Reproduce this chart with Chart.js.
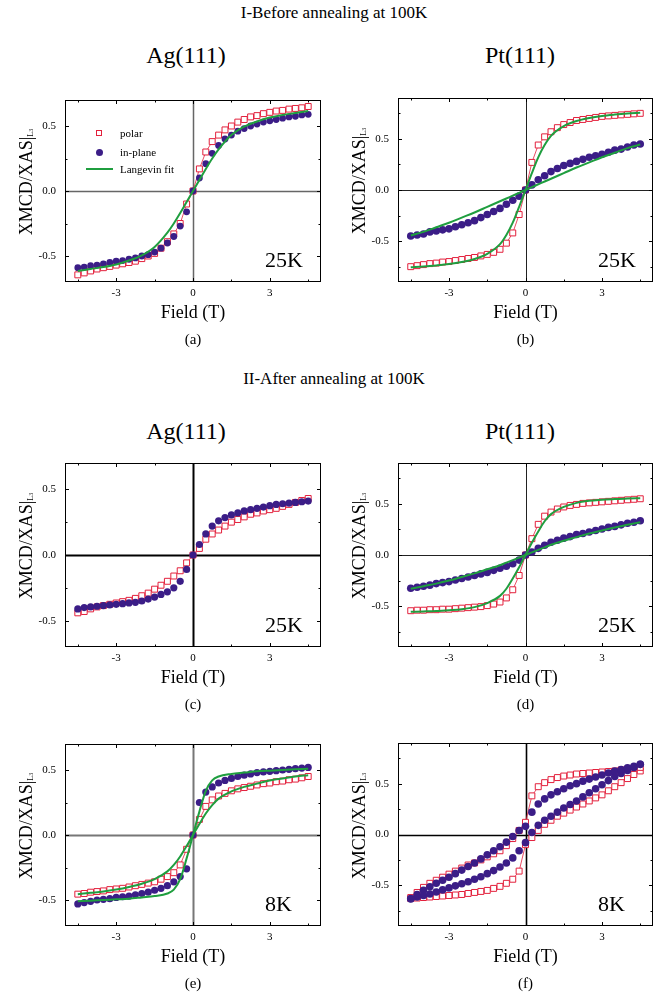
<!DOCTYPE html>
<html>
<head>
<meta charset="utf-8">
<script src="https://cdn.jsdelivr.net/npm/chart.js@4.4.0/dist/chart.umd.min.js"></script>
<style>
  body { margin: 0; background: #fff; width: 668px; height: 1004px; position: relative; overflow: hidden;
         font-family: 'Liberation Serif', 'Times New Roman', serif; color: #000; }
  .t { position: absolute; transform: translate(-50%, -50%); line-height: 1; white-space: nowrap; }
  .yt { position: absolute; transform: translate(-50%, -50%) rotate(-90deg); line-height: 1; white-space: nowrap; font-size: 18px; }
  .yt sub { font-size: 8px; vertical-align: -1px; }
  .tag { position: absolute; font-size: 22px; line-height: 1; }
  .leg { position: absolute; font-size: 11px; line-height: 1; transform: translateY(-50%); }
  canvas { position: absolute; }
</style>
</head>
<body>
<div class="t" style="left:334px;top:12px;font-size:17px">I-Before annealing at 100K</div>
<div class="t" style="left:186px;top:55px;font-size:24px">Ag(111)</div>
<div class="t" style="left:520px;top:55px;font-size:24px">Pt(111)</div>
<div class="t" style="left:334px;top:378px;font-size:17px">II-After annealing at 100K</div>
<div class="t" style="left:186px;top:431px;font-size:24px">Ag(111)</div>
<div class="t" style="left:520px;top:431px;font-size:24px">Pt(111)</div>

<canvas id="a"></canvas>
<canvas id="b"></canvas>
<canvas id="c"></canvas>
<canvas id="d"></canvas>
<canvas id="e"></canvas>
<canvas id="f"></canvas>

<!-- legend of panel (a) -->
<div style="position:absolute;left:96px;top:130px;width:6px;height:6px;border:1px solid #e3203c;box-sizing:border-box;background:#fff"></div>
<div class="leg" style="left:120px;top:133px">polar</div>
<div style="position:absolute;left:95.5px;top:148.5px;width:7px;height:7px;border-radius:50%;background:#3b1d87"></div>
<div class="leg" style="left:120px;top:152px">in-plane</div>
<div style="position:absolute;left:86px;top:168px;width:27px;height:1.6px;background:#1f9e3f"></div>
<div class="leg" style="left:120px;top:169px">Langevin fit</div>

<script>
// applied field (T), one value per measured point
const fields = [-4.5, -4.25, -4, -3.75, -3.5, -3.25, -3, -2.75, -2.5, -2.25, -2, -1.75, -1.5, -1.25, -1, -0.75, -0.5, -0.25,
  0, 0.25, 0.5, 0.75, 1, 1.25, 1.5, 1.75, 2, 2.25, 2.5, 2.75, 3, 3.25, 3.5, 3.75, 4, 4.25, 4.5];
// field values where the Langevin fits are sampled
const fitFields = [-4.5, -4, -3.5, -3, -2.5, -2, -1.5, -1, -0.75, -0.5, -0.25, 0, 0.25, 0.5, 0.75, 1, 1.5, 2, 2.5, 3, 3.5, 4, 4.5];

const xTickLabels = [-3, 0, 3];
const yTickLabels = [-0.5, 0, 0.5];

// (a) Ag(111) before annealing, 25K
const polarA = [-0.645, -0.63, -0.615, -0.60, -0.59, -0.58, -0.57, -0.56, -0.55, -0.54, -0.52, -0.50, -0.48, -0.44, -0.39, -0.33, -0.25, -0.10,
  0, 0.17, 0.30, 0.38, 0.43, 0.47, 0.50, 0.53, 0.55, 0.57, 0.58, 0.595, 0.605, 0.615, 0.62, 0.63, 0.635, 0.64, 0.65];
const inPlaneA = [-0.59, -0.585, -0.575, -0.57, -0.56, -0.55, -0.54, -0.535, -0.525, -0.515, -0.50, -0.49, -0.47, -0.44, -0.40, -0.35, -0.27, -0.16,
  0, 0.10, 0.21, 0.29, 0.35, 0.40, 0.43, 0.46, 0.48, 0.50, 0.515, 0.53, 0.54, 0.55, 0.56, 0.57, 0.575, 0.585, 0.59];
const fitA = [-0.615, -0.60, -0.585, -0.565, -0.535, -0.495, -0.43, -0.32, -0.25, -0.17, -0.085,
  0, 0.085, 0.17, 0.25, 0.32, 0.43, 0.495, 0.535, 0.565, 0.585, 0.60, 0.615];

// (b) Pt(111) before annealing, 25K
const polarB = [-0.75, -0.74, -0.73, -0.72, -0.715, -0.705, -0.70, -0.69, -0.68, -0.67, -0.66, -0.645, -0.63, -0.61, -0.58, -0.52, -0.42, -0.24,
  0, 0.27, 0.44, 0.52, 0.57, 0.61, 0.64, 0.66, 0.68, 0.69, 0.70, 0.71, 0.72, 0.725, 0.73, 0.735, 0.74, 0.745, 0.75];
const inPlaneB = [-0.45, -0.44, -0.43, -0.41, -0.40, -0.39, -0.38, -0.36, -0.34, -0.32, -0.30, -0.27, -0.24, -0.21, -0.18, -0.14, -0.10, -0.06,
  0, 0.05, 0.10, 0.14, 0.18, 0.21, 0.24, 0.26, 0.28, 0.30, 0.32, 0.335, 0.35, 0.37, 0.39, 0.40, 0.42, 0.44, 0.45];
const fitPolarB = [-0.755, -0.748, -0.738, -0.725, -0.705, -0.675, -0.625, -0.53, -0.44, -0.32, -0.165,
  0, 0.165, 0.32, 0.44, 0.53, 0.625, 0.675, 0.705, 0.725, 0.738, 0.748, 0.755];
const fitInPlaneB = [-0.445, -0.41, -0.365, -0.32, -0.27, -0.22, -0.165, -0.11, -0.083, -0.055, -0.028,
  0, 0.028, 0.055, 0.083, 0.11, 0.165, 0.22, 0.27, 0.32, 0.365, 0.41, 0.445];

// (c) Ag(111) after annealing, 25K
const polarC = [-0.44, -0.43, -0.41, -0.395, -0.385, -0.375, -0.365, -0.355, -0.345, -0.33, -0.31, -0.29, -0.26, -0.23, -0.20, -0.16, -0.12, -0.06,
  0, 0.05, 0.12, 0.16, 0.19, 0.22, 0.25, 0.27, 0.29, 0.31, 0.32, 0.335, 0.345, 0.355, 0.37, 0.385, 0.40, 0.415, 0.43];
const inPlaneC = [-0.41, -0.40, -0.395, -0.39, -0.385, -0.38, -0.375, -0.37, -0.365, -0.36, -0.35, -0.335, -0.32, -0.30, -0.28, -0.25, -0.20, -0.11,
  0, 0.08, 0.16, 0.22, 0.26, 0.285, 0.305, 0.32, 0.335, 0.345, 0.355, 0.365, 0.375, 0.385, 0.39, 0.395, 0.40, 0.405, 0.41];

// (d) Pt(111) after annealing, 25K
const polarD = [-0.545, -0.54, -0.54, -0.535, -0.535, -0.53, -0.53, -0.525, -0.52, -0.515, -0.51, -0.505, -0.495, -0.48, -0.46, -0.42, -0.34, -0.20,
  0, 0.16, 0.30, 0.38, 0.42, 0.45, 0.47, 0.485, 0.495, 0.505, 0.51, 0.515, 0.52, 0.525, 0.53, 0.535, 0.54, 0.545, 0.55];
const inPlaneD = [-0.325, -0.315, -0.305, -0.295, -0.28, -0.27, -0.26, -0.245, -0.23, -0.215, -0.20, -0.185, -0.17, -0.15, -0.13, -0.11, -0.085, -0.05,
  0, 0.03, 0.065, 0.095, 0.125, 0.145, 0.165, 0.18, 0.20, 0.21, 0.225, 0.24, 0.255, 0.27, 0.28, 0.295, 0.31, 0.32, 0.335];
const fitPolarD = [-0.555, -0.552, -0.548, -0.54, -0.53, -0.51, -0.47, -0.40, -0.33, -0.23, -0.12,
  0, 0.12, 0.23, 0.33, 0.40, 0.47, 0.51, 0.53, 0.54, 0.548, 0.552, 0.555];
const fitInPlaneD = [-0.33, -0.305, -0.28, -0.25, -0.215, -0.18, -0.14, -0.10, -0.075, -0.05, -0.025,
  0, 0.025, 0.05, 0.075, 0.10, 0.14, 0.175, 0.21, 0.24, 0.27, 0.295, 0.32];

// (e) Ag(111) after annealing, 8K
const polarE = [-0.455, -0.45, -0.44, -0.435, -0.43, -0.42, -0.415, -0.41, -0.40, -0.39, -0.38, -0.37, -0.36, -0.34, -0.32, -0.29, -0.23, -0.11,
  0, 0.12, 0.22, 0.27, 0.30, 0.32, 0.34, 0.355, 0.365, 0.375, 0.385, 0.395, 0.40, 0.41, 0.415, 0.425, 0.43, 0.44, 0.45];
const inPlaneE = [-0.53, -0.52, -0.51, -0.50, -0.495, -0.49, -0.48, -0.475, -0.47, -0.46, -0.45, -0.44, -0.425, -0.41, -0.39, -0.36, -0.32, -0.26,
  0, 0.25, 0.33, 0.37, 0.40, 0.42, 0.435, 0.45, 0.46, 0.47, 0.48, 0.485, 0.49, 0.495, 0.50, 0.505, 0.51, 0.515, 0.52];
const fitPolarE = [-0.455, -0.445, -0.435, -0.42, -0.40, -0.375, -0.34, -0.28, -0.23, -0.165, -0.085,
  0, 0.085, 0.165, 0.23, 0.28, 0.335, 0.37, 0.395, 0.42, 0.435, 0.45, 0.46];
const fitInPlaneE = [-0.51, -0.505, -0.50, -0.495, -0.49, -0.48, -0.47, -0.45, -0.42, -0.34, -0.18,
  0, 0.18, 0.34, 0.42, 0.45, 0.47, 0.48, 0.49, 0.495, 0.50, 0.505, 0.51];

// (f) Pt(111) after annealing, 8K (two branches of the loop)
const polarFUp = [-0.62, -0.57, -0.52, -0.48, -0.45, -0.42, -0.39, -0.36, -0.33, -0.30, -0.28, -0.25, -0.22, -0.19, -0.16, -0.11, -0.04, 0.04,
  0.12, 0.38, 0.47, 0.51, 0.54, 0.56, 0.575, 0.585, 0.595, 0.60, 0.605, 0.61, 0.615, 0.62, 0.625, 0.635, 0.64, 0.65, 0.66];
const polarFDown = [-0.63, -0.625, -0.62, -0.615, -0.61, -0.605, -0.60, -0.595, -0.59, -0.58, -0.57, -0.56, -0.55, -0.53, -0.51, -0.48, -0.44, -0.36,
  -0.10, -0.03, 0.04, 0.10, 0.14, 0.18, 0.21, 0.24, 0.27, 0.30, 0.33, 0.36, 0.39, 0.43, 0.47, 0.51, 0.55, 0.59, 0.625];
const inPlaneFUp = [-0.63, -0.59, -0.55, -0.515, -0.48, -0.45, -0.42, -0.385, -0.35, -0.315, -0.28, -0.24, -0.20, -0.16, -0.12, -0.075, -0.02, 0.04,
  0.08, 0.22, 0.30, 0.35, 0.39, 0.42, 0.45, 0.48, 0.50, 0.525, 0.545, 0.565, 0.585, 0.605, 0.625, 0.64, 0.655, 0.67, 0.69];
const inPlaneFDown = [-0.635, -0.615, -0.60, -0.585, -0.565, -0.545, -0.525, -0.505, -0.485, -0.465, -0.44, -0.415, -0.385, -0.355, -0.32, -0.28, -0.23, -0.16,
  -0.08, 0.02, 0.09, 0.14, 0.18, 0.22, 0.26, 0.295, 0.33, 0.37, 0.41, 0.45, 0.49, 0.53, 0.57, 0.60, 0.63, 0.66, 0.69];

const red = '#e3203c';
const purple = '#3b1d87';
const green = '#1f9e3f';
const font = "'Liberation Serif', 'Times New Roman', serif";

function pts(xs, ys) {
  return xs.map((x, i) => ({ x: x, y: ys[i] }));
}

function polarSet(vals) {
  return {
    data: pts(fields, vals), showLine: true, borderColor: red, borderWidth: 0.8,
    pointStyle: 'rect', pointRadius: 4.2, pointBorderColor: red, pointBackgroundColor: '#fff',
    pointBorderWidth: 1, order: 3
  };
}

function planeSet(vals, r) {
  return {
    data: pts(fields, vals), showLine: false, pointStyle: 'circle', pointRadius: r,
    pointBackgroundColor: purple, pointBorderColor: purple, pointBorderWidth: 0, order: 2
  };
}

function fitSet(vals) {
  return {
    data: pts(fitFields, vals), showLine: true, borderColor: green, borderWidth: 2,
    pointRadius: 0, cubicInterpolationMode: 'monotone', order: 1
  };
}

// box, inward ticks and the zero cross lines
const frame = {
  id: 'frame',
  beforeDatasetsDraw(chart, args, opts) {
    const { ctx, chartArea: a, scales } = chart;
    const x0 = Math.round(scales.x.getPixelForValue(0)) + 0.5;
    const y0 = Math.round(scales.y.getPixelForValue(0)) + 0.5;
    ctx.save();
    ctx.strokeStyle = opts.zeroColor;
    ctx.lineWidth = opts.zeroWidth;
    ctx.beginPath();
    ctx.moveTo(x0, a.top); ctx.lineTo(x0, a.bottom);
    ctx.moveTo(a.left, y0); ctx.lineTo(a.right, y0);
    ctx.stroke();
    ctx.restore();
  },
  afterDatasetsDraw(chart, args, opts) {
    const { ctx, chartArea: a, scales } = chart;
    ctx.save();
    ctx.strokeStyle = '#000';
    ctx.lineWidth = 1;
    ctx.strokeRect(a.left + 0.5, a.top + 0.5, a.right - a.left - 1, a.bottom - a.top - 1);
    ctx.beginPath();
    [-4.5, -3, -1.5, 0, 1.5, 3, 4.5].forEach(v => {
      const px = Math.round(scales.x.getPixelForValue(v)) + 0.5;
      const len = xTickLabels.includes(v) ? 4 : 2.5;
      ctx.moveTo(px, a.bottom); ctx.lineTo(px, a.bottom - len);
      ctx.moveTo(px, a.top); ctx.lineTo(px, a.top + len);
    });
    opts.yTicks.forEach(v => {
      const py = Math.round(scales.y.getPixelForValue(v)) + 0.5;
      const len = yTickLabels.includes(v) ? 4 : 2.5;
      ctx.moveTo(a.left, py); ctx.lineTo(a.left + len, py);
      ctx.moveTo(a.right, py); ctx.lineTo(a.right - len, py);
    });
    ctx.stroke();
    ctx.restore();
  }
};

function addText(cls, html, left, top, size) {
  const d = document.createElement('div');
  d.className = cls;
  d.innerHTML = html;
  d.style.left = left + 'px';
  d.style.top = top + 'px';
  if (size) d.style.fontSize = size + 'px';
  document.body.appendChild(d);
}

function panel(id, box, yMax, datasets, zeroColor, zeroWidth, temp, caption) {
  const cv = document.getElementById(id);
  const W = box.R - box.L + 65, H = box.B - box.T + 35;
  cv.width = W; cv.height = H;
  cv.style.left = (box.L - 50) + 'px';
  cv.style.top = (box.T - 10) + 'px';
  cv.style.width = W + 'px';
  cv.style.height = H + 'px';
  const yTicks = yMax > 0.8 ? [-0.75, -0.5, -0.25, 0, 0.25, 0.5, 0.75] : [-0.5, -0.25, 0, 0.25, 0.5];

  new Chart(cv, {
    type: 'scatter',
    data: { datasets: datasets },
    options: {
      responsive: false,
      animation: false,
      devicePixelRatio: 1,
      layout: { padding: { top: 10, right: 15, left: 0, bottom: 0 } },
      plugins: {
        legend: { display: false },
        tooltip: { enabled: false },
        frame: { zeroColor: zeroColor, zeroWidth: zeroWidth, yTicks: yTicks }
      },
      scales: {
        x: {
          type: 'linear', min: -5, max: 5,
          grid: { display: false, drawTicks: false },
          border: { display: false },
          afterBuildTicks: s => { s.ticks = xTickLabels.map(v => ({ value: v })); },
          afterFit: s => { s.height = 25; s.paddingLeft = 0; s.paddingRight = 0; },
          ticks: { padding: 5, color: '#000', font: { family: font, size: 11 }, callback: v => String(v) }
        },
        y: {
          type: 'linear', min: -yMax, max: yMax,
          grid: { display: false, drawTicks: false },
          border: { display: false },
          afterBuildTicks: s => { s.ticks = yTickLabels.map(v => ({ value: v })); },
          afterFit: s => { s.width = 50; s.paddingTop = 0; s.paddingBottom = 0; },
          ticks: { padding: 9, color: '#000', font: { family: font, size: 11 }, callback: v => v.toFixed(1) }
        }
      }
    },
    plugins: [frame]
  });

  const cx = (box.L + box.R) / 2;
  addText('t', 'Field (T)', cx, box.B + 30, 18);
  addText('yt', 'XMCD/XAS|<sub>L<span style="font-size:6px">3</span></sub>', box.L - 39, (box.T + box.B) / 2 - 9);
  addText('tag', temp, box.L + 200, box.B - 33.4);
  addText('t', caption, cx, box.B + 57, 15);
}

panel('a', { L: 65, T: 100, R: 321, B: 282 }, 0.7,
  [polarSet(polarA), planeSet(inPlaneA, 3.4), fitSet(fitA)], '#666', 1.5, '25K', '(a)');
panel('b', { L: 398, T: 98, R: 653, B: 282 }, 0.9,
  [polarSet(polarB), planeSet(inPlaneB, 3.8), fitSet(fitPolarB), fitSet(fitInPlaneB)], '#222', 1, '25K', '(b)');
panel('c', { L: 65, T: 463, R: 321, B: 647 }, 0.7,
  [polarSet(polarC), planeSet(inPlaneC, 3.6)], '#000', 2, '25K', '(c)');
panel('d', { L: 398, T: 463, R: 653, B: 647 }, 0.9,
  [polarSet(polarD), planeSet(inPlaneD, 3.8), fitSet(fitPolarD), fitSet(fitInPlaneD)], '#222', 1, '25K', '(d)');
panel('e', { L: 65, T: 744, R: 321, B: 926 }, 0.7,
  [polarSet(polarE), planeSet(inPlaneE, 3.6), fitSet(fitPolarE), fitSet(fitInPlaneE)], '#777', 2, '8K', '(e)');
panel('f', { L: 398, T: 743, R: 653, B: 926 }, 0.9,
  [polarSet(polarFUp), polarSet(polarFDown), planeSet(inPlaneFUp, 3.8), planeSet(inPlaneFDown, 3.8)], '#000', 1.6, '8K', '(f)');
</script>
</body>
</html>
